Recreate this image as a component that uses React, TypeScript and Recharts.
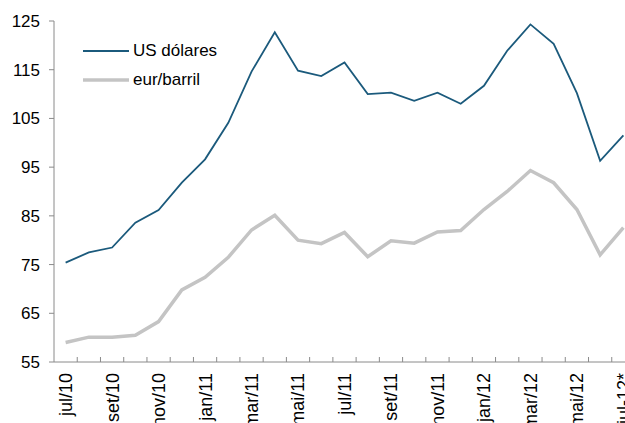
import { LineChart, Line, XAxis, YAxis } from 'recharts';

const months = [
  'jul/10', 'ago/10', 'set/10', 'out/10', 'nov/10', 'dez/10',
  'jan/11', 'fev/11', 'mar/11', 'abr/11', 'mai/11', 'jun/11',
  'jul/11', 'ago/11', 'set/11', 'out/11', 'nov/11', 'dez/11',
  'jan/12', 'fev/12', 'mar/12', 'abr/12', 'mai/12', 'jun/12', 'jul-12*',
];

const usd = [
  75.4, 77.5, 78.5, 83.6, 86.2, 91.8,
  96.6, 104.1, 114.6, 122.7, 114.8, 113.7,
  116.5, 110.0, 110.3, 108.6, 110.3, 108.0,
  111.7, 118.9, 124.3, 120.3, 110.2, 96.3, 101.5,
];

const eur = [
  59.0, 60.1, 60.1, 60.5, 63.3, 69.8,
  72.4, 76.5, 82.1, 85.1, 80.0, 79.3,
  81.6, 76.6, 79.9, 79.4, 81.7, 82.0,
  86.3, 90.0, 94.3, 91.8, 86.3, 77.0, 82.6,
];

const yTicks = [55, 65, 75, 85, 95, 105, 115, 125];

const data = months.map((m, i) => ({ month: m, usd: usd[i], eur: eur[i] }));

const BLUE = '#1b5a7c';
const GRAY = '#c4c4c4';
const AXIS = '#8a8a8a';
const FONT = '"Liberation Sans", Arial, sans-serif';

function MonthTick(props: any) {
  const { x, y, payload, index } = props;
  const half = payload && payload.offset ? payload.offset : 0;
  return (
    <g>
      <line x1={x + half} x2={x + half} y1={y} y2={y - 5} stroke={AXIS} strokeWidth={1} />
      {index % 2 === 0 && (
        <text
          x={x}
          y={y + 11}
          dy="0.36em"
          textAnchor="end"
          fontSize={18}
          fontFamily={FONT}
          fill="#000"
          transform={`rotate(-90, ${x}, ${y + 11})`}
        >
          {payload.value}
        </text>
      )}
    </g>
  );
}

export default function App() {
  return (
    <div style={{ position: 'fixed', left: 0, top: 0, width: 625, height: 423, overflow: 'hidden', background: '#fff' }}>
      <LineChart width={660} height={470} data={data} margin={{ top: 21, right: 25, bottom: 48, left: 0 }}>
        <XAxis
          dataKey="month"
          scale="band"
          interval={0}
          height={60}
          stroke={AXIS}
          tickLine={false}
          tickSize={0}
          tickMargin={0}
          tick={<MonthTick />}
        />
        <YAxis
          domain={[55, 125]}
          ticks={yTicks}
          width={54}
          stroke={AXIS}
          tickSize={5}
          tickMargin={9}
          tick={{ fill: '#000', fontSize: 17, fontFamily: FONT }}
          allowDataOverflow
        />
        <Line dataKey="eur" stroke={GRAY} strokeWidth={3.5} dot={false} isAnimationActive={false} />
        <Line dataKey="usd" stroke={BLUE} strokeWidth={1.8} dot={false} isAnimationActive={false} />
      </LineChart>
      <div style={{ position: 'absolute', left: 83, top: 36, fontFamily: FONT, fontSize: 17, color: '#000' }}>
        <div style={{ display: 'flex', alignItems: 'center', height: 29 }}>
          <svg width={46} height={6} style={{ marginRight: 4 }}>
            <line x1={0} x2={46} y1={3} y2={3} stroke={BLUE} strokeWidth={1.8} />
          </svg>
          <span>US dólares</span>
        </div>
        <div style={{ display: 'flex', alignItems: 'center', height: 29 }}>
          <svg width={46} height={6} style={{ marginRight: 4 }}>
            <line x1={0} x2={46} y1={3} y2={3} stroke={GRAY} strokeWidth={3.5} />
          </svg>
          <span>eur/barril</span>
        </div>
      </div>
    </div>
  );
}
